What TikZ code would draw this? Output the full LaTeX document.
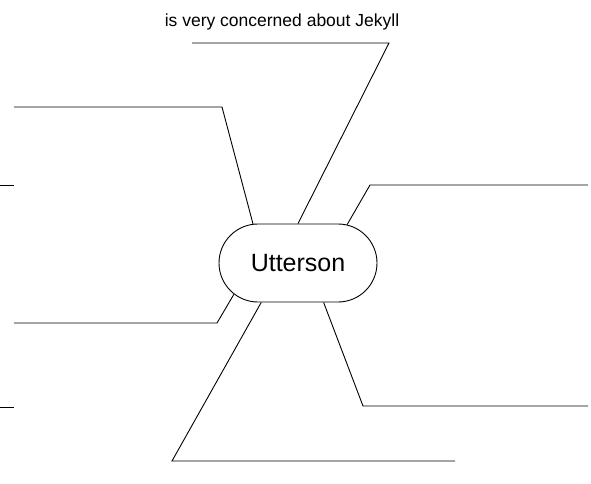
\documentclass[tikz,border=0pt]{standalone}
\usepackage{fontspec}
\setmainfont{Liberation Sans}
\usetikzlibrary{positioning,shapes}
\tikzstyle{hub}=[%
      rounded rectangle, draw=black, line width=0.9pt, fill=none,
      minimum width=158pt, minimum height=78pt, inner sep=0pt,
      font=\fontsize{25}{30}\selectfont
]
\tikzstyle{note}=[%
      inner sep=0pt, font=\fontsize{17.5}{21}\selectfont
]
\tikzstyle{leg}=[%
      draw=black, line width=0.9pt
]

\begin{document}
\begin{tikzpicture}[x=1pt, y=-1pt]
    \useasboundingbox (0,0) rectangle (591,484);

    \node[hub]  (ut)  at (298,263) {Utterson};
    \node[note] (jek) at (282,22)  {is very concerned about Jekyll};

    % free ends of the legs
    \coordinate (top1) at (389,43);   \coordinate (top2) at (192,43);
    \coordinate (ul1)  at (222,107);  \coordinate (ul2)  at (14,107);
    \coordinate (ll1)  at (217,323);  \coordinate (ll2)  at (14,323);
    \coordinate (bt1)  at (172,461);  \coordinate (bt2)  at (455,461);
    \coordinate (ur1)  at (370,185);  \coordinate (ur2)  at (588,185);
    \coordinate (lr1)  at (363,406);  \coordinate (lr2)  at (588,406);

    \draw[leg] (ut.north) -- (top1) -- (top2);
    \draw[leg] (ut.139)   -- (ul1)  -- (ul2);
    \draw[leg] (ut.206)   -- (ll1)  -- (ll2);
    \draw[leg] (ut.227)   -- (bt1)  -- (bt2);
    \draw[leg] (ut.38)    -- (ur1)  -- (ur2);
    \draw[leg] (ut.303)   -- (lr1)  -- (lr2);

    % stubs at the left edge
    \draw[leg] (0,185) -- (14,185);
    \draw[leg] (0,407) -- (14,407);
\end{tikzpicture}
\end{document}
